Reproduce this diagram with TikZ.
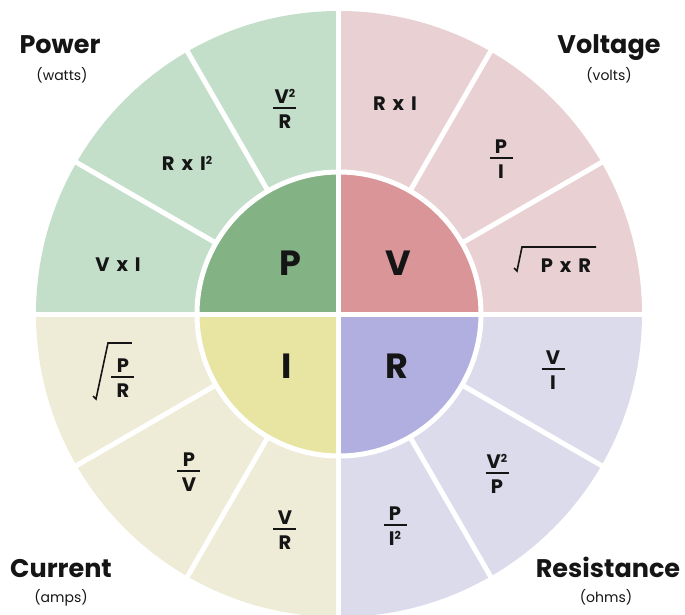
\documentclass[tikz,border=0pt]{standalone}
\usepackage{fontspec}
\setmainfont{Poppins}
\usetikzlibrary{calc}

\definecolor{inkc}{HTML}{151515}
\definecolor{pwOut}{HTML}{C3DEC9}
\definecolor{pwIn}{HTML}{83B285}
\definecolor{vtOut}{HTML}{E8D0D3}
\definecolor{vtIn}{HTML}{D99597}
\definecolor{cuOut}{HTML}{EEEBD6}
\definecolor{cuIn}{HTML}{E8E4A2}
\definecolor{rsOut}{HTML}{DCDBEC}
\definecolor{rsIn}{HTML}{B0AFDF}

\tikzset{
  sep/.style={white, line width=5pt},
  fml/.style={inkc, inner sep=0pt, font=\fontsize{19.5}{22}\selectfont\bfseries},
  big/.style={inkc, inner sep=0pt, font=\fontsize{35}{38}\selectfont\bfseries},
  ttl/.style={inkc, inner sep=0pt, font=\fontsize{25.5}{28}\selectfont\bfseries},
  sub/.style={inkc, inner sep=0pt, font=\fontsize{14}{16}\selectfont},
  fbar/.style={inkc, line width=2pt},
  radical/.style={inkc, line width=1.6pt, line join=miter}
}

% fraction: name, x, y of the bar, numerator, denominator
\newcommand\fracat[5]{%
  \node[fml, anchor=base] (#1-n) at (#2,#3+5) {#4};
  \node[fml, anchor=base] (#1-d) at (#2,#3-20.5) {#5};
  \draw[fbar] (#2-11.5,#3) -- (#2+11.5,#3);}

\newcommand\gap{\hspace{7pt}}
\newcommand\sq{\raisebox{0.55ex}{\fontsize{11}{12}\selectfont 2}}

\begin{document}
\begin{tikzpicture}[x=1pt, y=1pt]
\useasboundingbox (-339,-300) rectangle (346,314);
\clip (-339,-300) rectangle (346,314);

% outer ring, one quadrant per quantity
\fill[pwOut] (0,0) -- (180:303) arc[start angle=180, end angle=90, radius=303] -- cycle;
\fill[vtOut] (0,0) -- (90:303) arc[start angle=90, end angle=0, radius=303] -- cycle;
\fill[cuOut] (0,0) -- (180:303) arc[start angle=180, end angle=270, radius=303] -- cycle;
\fill[rsOut] (0,0) -- (270:303) arc[start angle=270, end angle=360, radius=303] -- cycle;

% inner disc
\fill[pwIn] (0,0) -- (180:142) arc[start angle=180, end angle=90, radius=142] -- cycle;
\fill[vtIn] (0,0) -- (90:142) arc[start angle=90, end angle=0, radius=142] -- cycle;
\fill[cuIn] (0,0) -- (180:142) arc[start angle=180, end angle=270, radius=142] -- cycle;
\fill[rsIn] (0,0) -- (270:142) arc[start angle=270, end angle=360, radius=142] -- cycle;

% white separators
\draw[sep] (-320,0) -- (320,0);
\draw[sep] (0,-320) -- (0,320);
\draw[sep] (0,0) circle[radius=142];
\foreach \a in {30,60,120,150,210,240,300,330}
  \draw[sep] (\a:142) -- (\a:320);

% central letters
\node[big, anchor=base] (P) at (-49,39) {P};
\node[big, anchor=base] (V) at (59,39) {V};
\node[big, anchor=base] (I) at (-52,-64) {I};
\node[big, anchor=base] (R) at (58,-64) {R};

% quadrant titles
\node[ttl, anchor=base] (tPow) at (-279,261) {Power};
\node[sub, anchor=base] (sPow) at (-277,234) {(watts)};
\node[ttl, anchor=base] (tVol) at (270,261) {Voltage};
\node[sub, anchor=base] (sVol) at (270,234) {(volts)};
\node[ttl, anchor=base] (tCur) at (-278,-263) {Current};
\node[sub, anchor=base] (sCur) at (-278,-288) {(amps)};
\node[ttl, anchor=base] (tRes) at (269,-263) {Resistance};
\node[sub, anchor=base] (sRes) at (267,-288) {(ohms)};

% power formulas
\fracat{pw1}{-54}{206}{V\sq}{R}
\node[fml, anchor=base] (pw2) at (-152,144) {R\gap x\gap I\sq};
\node[fml, anchor=base] (pw3) at (-221,43) {V\gap x\gap I};

% voltage formulas
\node[fml, anchor=base] (vt1) at (56,204) {R\gap x\gap I};
\fracat{vt2}{162}{156}{P}{I}
\node[fml, anchor=base] (vt3) at (227,42) {P\gap x\gap R};
\draw[radical] ($(vt3.base)+(-52,4)$) -- ++(3,-3) -- ($(vt3.base)+(-44,25)$) -- ($(vt3.base)+(30,25)$);

% current formulas
\fracat{cu1}{-216}{-63}{P}{R}
\draw[radical] (-246,-82) -- (-243,-85) -- (-231,-29) -- (-207,-29);
\fracat{cu2}{-150}{-157}{P}{V}
\fracat{cu3}{-54}{-215}{V}{R}

% resistance formulas
\fracat{rs1}{214}{-55}{V}{I}
\fracat{rs2}{158}{-159}{V\sq}{P}
\fracat{rs3}{56}{-211}{P}{I\sq}
\end{tikzpicture}
\end{document}
